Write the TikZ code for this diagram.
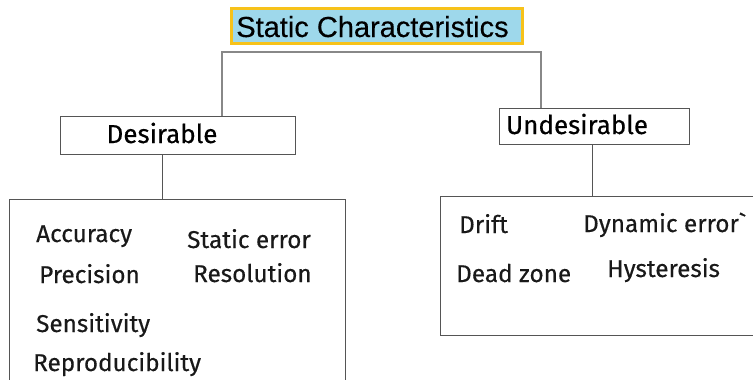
\documentclass[tikz,border=0pt]{standalone}
\usepackage{fontspec}
\setmainfont{Fira Sans}
\newfontfamily\titlefont{Liberation Sans}[FakeBold=0.3]
\newfontfamily\labelfont{Fira Sans}[FakeBold=0.4]
\definecolor{titlefill}{HTML}{9ED8EB}
\definecolor{titleedge}{HTML}{F7C21A}
\definecolor{bracket}{HTML}{888888}
\definecolor{boxedge}{HTML}{555555}
\tikzset{
  title/.style={draw=titleedge, line width=3pt, fill=titlefill, inner sep=0pt},
  headbox/.style={draw=boxedge, line width=1pt, inner sep=0pt},
  listbox/.style={draw=boxedge, line width=1pt, inner sep=0pt},
  headtext/.style={inner sep=0pt, anchor=base, font=\labelfont\fontsize{26}{30}\selectfont},
  item/.style={inner sep=0pt, anchor=base west, font=\labelfont\fontsize{24.3}{28}\selectfont, text=black!90},
  link/.style={draw=bracket, line width=1.3pt},
  drop/.style={draw=boxedge, line width=1pt},
}
\begin{document}
\begin{tikzpicture}[x=1pt, y=-1pt]
\useasboundingbox (0,0) rectangle (753,380);
\clip (0,0) rectangle (753,380);

% title
\node[title, minimum width=291pt, minimum height=35pt] (top) at (376.5,25.5) {};
\node[inner sep=0pt, anchor=base, font=\titlefont\fontsize{29}{33}\selectfont] (toptext) at (372.5,37) {Static Characteristics};

% branch boxes
\node[headbox, minimum width=235pt, minimum height=38pt] (desbox) at (177.5,135) {};
\node[headtext] (des) at (162,143) {Desirable};
\node[headbox, minimum width=190pt, minimum height=36pt] (undbox) at (594,126) {};
\node[headtext] (und) at (577,134) {Undesirable};

% bracket joining the two branches
\coordinate (split) at (222,52);
\draw[link] ([xshift=44.5pt]desbox.north) |- (split) -| ([xshift=-53pt]undbox.north);

% list boxes
\node[listbox, minimum width=336pt, minimum height=200pt, anchor=north west] (deslist) at (9,199) {};
\node[listbox, minimum width=330pt, minimum height=139pt, anchor=north west] (undlist) at (440,196) {};
\draw[drop] ([xshift=-15.5pt]desbox.south) -- ([xshift=-15.5pt]desbox.south |- deslist.north);
\draw[drop] ([xshift=-2pt]undbox.south) -- ([xshift=-2pt]undbox.south |- undlist.north);

% desirable characteristics
\node[item] (acc) at (36,242) {Accuracy};
\node[item] (sterr) at (187,248) {Static error};
\node[item] (prec) at (39,283) {Precision};
\node[item] (res) at (193,282) {Resolution};
\node[item] (sens) at (36,332) {Sensitivity};
\node[item] (repro) at (33,371) {Reproducibility};

% undesirable characteristics
\node[item] (drift) at (459,233) {Drift};
\node[item] (dynerr) at (583,232) {Dynamic error`};
\node[item] (dead) at (456,282) {Dead zone};
\node[item] (hyst) at (607,277) {Hysteresis};
\end{tikzpicture}
\end{document}
